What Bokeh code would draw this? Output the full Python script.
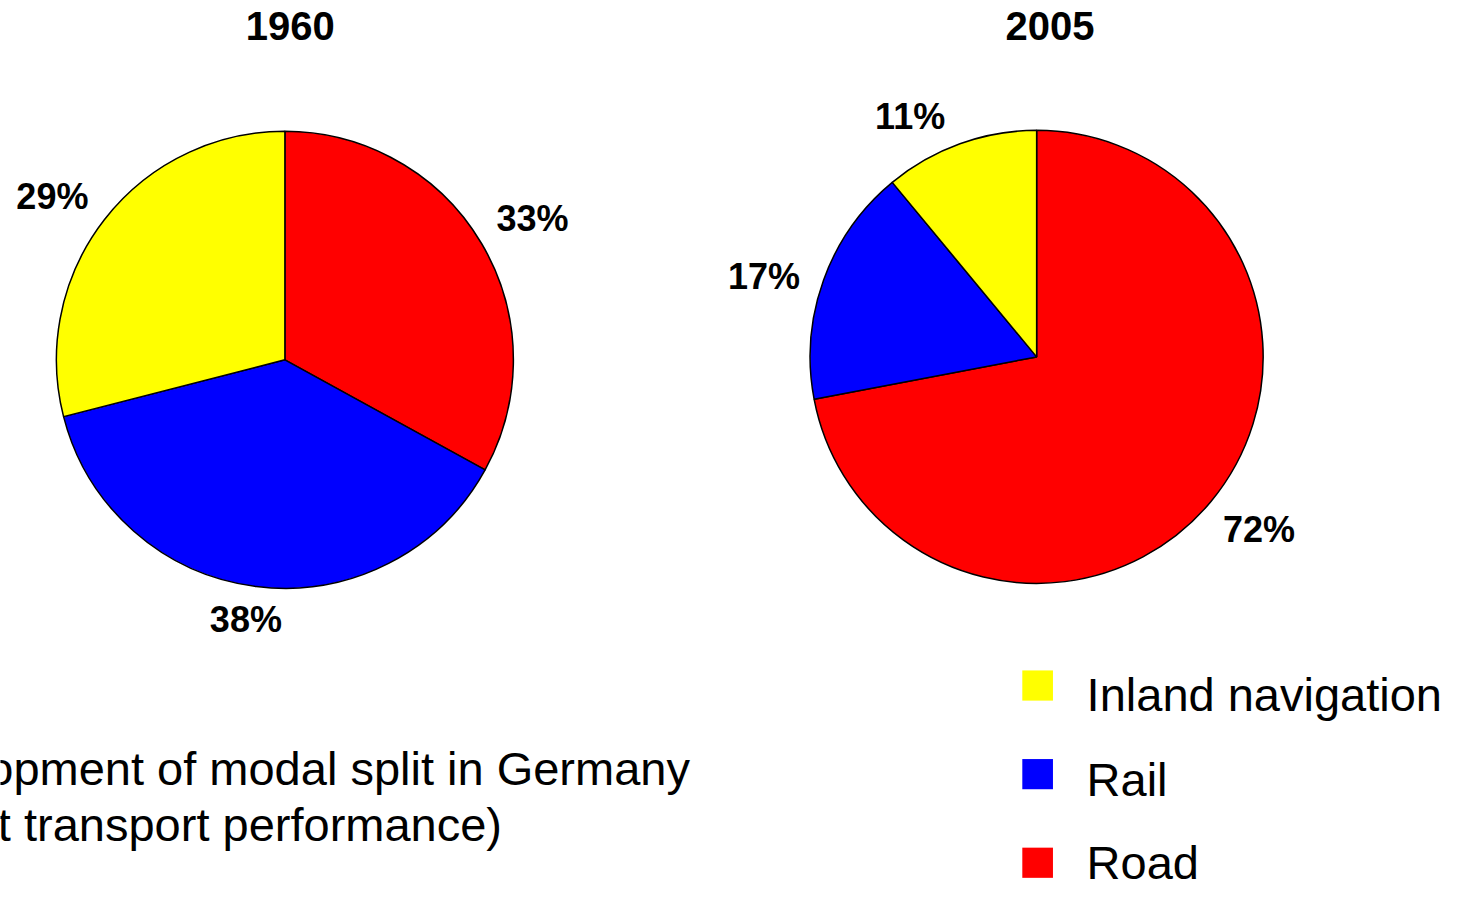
import math
from bokeh.plotting import figure
from bokeh.models import Range1d
from bokeh.core.properties import value
from bokeh.embed import file_html
from bokeh.resources import INLINE

# ---------------- data ----------------
years = ["1960", "2005"]
modes = ["Road", "Rail", "Inland navigation"]          # clockwise from 12 o'clock
mode_colors = ["#FF0000", "#0000FF", "#FFFF00"]
share_1960 = [33, 38, 29]
share_2005 = [72, 17, 11]
legend_order = ["Inland navigation", "Rail", "Road"]
caption_lines = ["Development of modal split in Germany",
                 "(freight transport performance)"]

# ---------------- layout (reference pixel coordinates) ----------------
W, H = 1476, 906
FONT = "Liberation Sans"
pies = [
    dict(year="1960", shares=share_1960, cx=287.5, cy=369.0, r=231.0, tx=293.0,
         label_turn=[-0.5, -1.2, 2.3]),
    dict(year="2005", shares=share_2005, cx=1047.5, cy=366.0, r=229.0, tx=1061.0,
         label_turn=[1.4, 3.2, 7.6]),
]
LABEL_K, LABEL_HW, LABEL_HH = 1.08, 37.5, 15.0


def Y(ry):
    return H - ry


p = figure(width=1460, height=890, x_range=Range1d(0, W), y_range=Range1d(-8, 906),
           output_backend="svg", toolbar_location=None, min_border=0)
p.axis.visible = False
p.grid.visible = False
p.outline_line_color = None
p.background_fill_color = "white"
p.border_fill_color = "white"

for pie in pies:
    total = float(sum(pie["shares"]))
    cum = 0.0
    xs, ys, texts = [], [], []
    for mode, col, s, turn in zip(modes, mode_colors, pie["shares"], pie["label_turn"]):
        a0 = 90.0 - cum / total * 360.0
        a1 = 90.0 - (cum + s) / total * 360.0
        p.wedge(x=pie["cx"], y=Y(pie["cy"]), radius=pie["r"],
                start_angle=math.radians(a1), end_angle=math.radians(a0),
                fill_color=col, line_color="black", line_width=1.5)
        mid = math.radians((a0 + a1) / 2.0 + turn)
        c, sn = math.cos(mid), math.sin(mid)
        d = pie["r"] * LABEL_K + LABEL_HW * abs(c) + LABEL_HH * abs(sn)
        xs.append(pie["cx"] + d * c)
        ys.append(Y(pie["cy"]) + d * sn)
        texts.append(f"{s}%")
        cum += s
    p.text(x=xs, y=ys, text=texts, text_font=value(FONT), text_font_style="bold",
           text_font_size="36px", text_align="center", text_baseline="middle",
           text_color="black")
    p.text(x=[pie["tx"]], y=[Y(26)], text=[pie["year"]], text_font=value(FONT),
           text_font_style="bold", text_font_size="40px", text_align="center",
           text_baseline="middle", text_color="black")

# legend
color_of = dict(zip(modes, mode_colors))
leg_box_y = [703.5, 794.5, 885.5]
leg_text_mid = [712.3, 800.3, 885.3]
for name, ly, tm in zip(legend_order, leg_box_y, leg_text_mid):
    p.rect(x=1048.5, y=Y(ly), width=31, height=31, fill_color=color_of[name],
           line_color=None)
    p.text(x=[1098], y=[Y(tm)], text=[name], text_font=value(FONT),
           text_font_size="47px", text_align="left", text_baseline="middle",
           text_color="black")

# caption (partly cut at the left edge as in the reference)
p.text(x=[697, 507], y=[Y(788.3), Y(846.3)], text=caption_lines, text_font=value(FONT),
       text_font_size="47px", text_align="right", text_baseline="middle",
       text_color="black")

open("out.html", "w").write(file_html(p, INLINE))
